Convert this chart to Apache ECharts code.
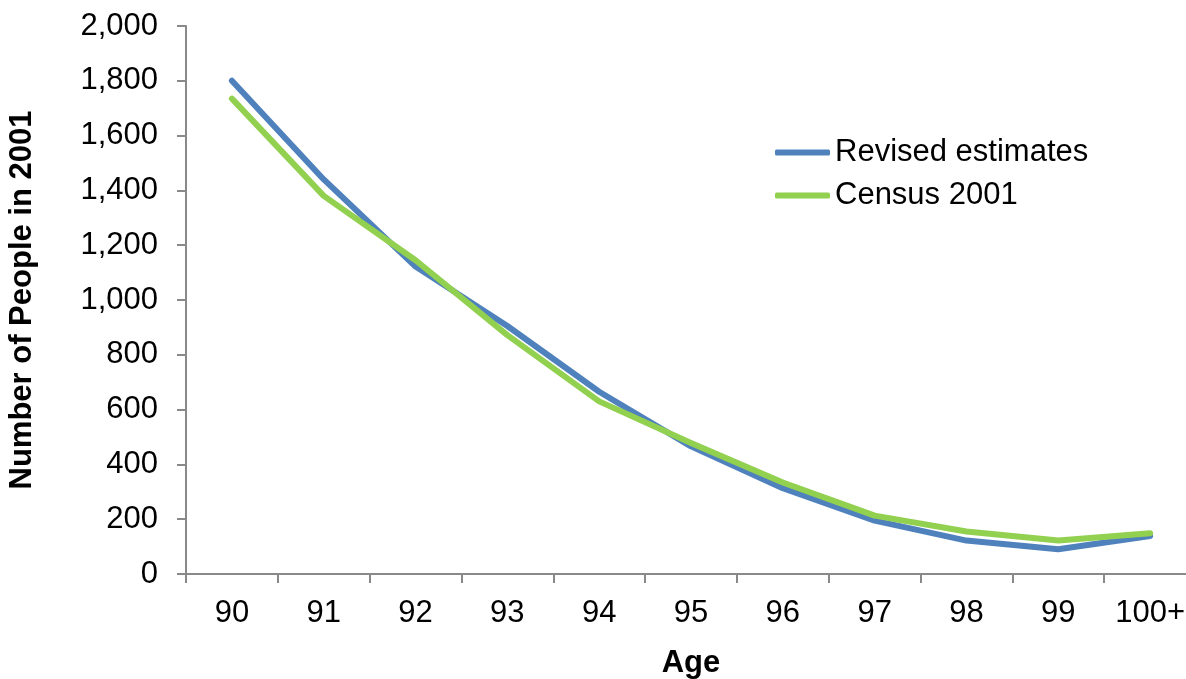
<!DOCTYPE html>
<html>
<head>
<meta charset="utf-8">
<script src="https://cdn.jsdelivr.net/npm/echarts@6/dist/echarts.min.js"></script>
<style>html,body{margin:0;padding:0;background:#fff;}#c{width:1186px;height:679px;}</style>
</head>
<body>
<div id="c"></div>
<script>
const categories = ['90','91','92','93','94','95','96','97','98','99','100+'];
const revisedEstimates = [1800,1440,1122,905,665,466,313,195,122,90,139];
const census2001 = [1735,1380,1145,872,630,478,334,213,155,122,149];
const yTicks = { min: 0, max: 2000, interval: 200 };

const font = '"Liberation Sans", Arial, sans-serif';
const fs = 31;
const axisColor = '#898989';
const chart = echarts.init(document.getElementById('c'), null, {renderer: 'canvas'});
chart.setOption({
  animation: false,
  backgroundColor: '#fff',
  grid: { left: 186, top: 26, bottom: 105, right: -10, containLabel: false, outerBoundsMode: 'none' },
  legend: {
    orient: 'vertical', left: 770, top: 132,
    itemWidth: 55, itemHeight: 6, itemGap: 12,
    icon: 'roundRect',
    textStyle: { fontFamily: font, fontSize: fs, color: '#000' },
    data: ['Revised estimates', 'Census 2001']
  },
  xAxis: {
    type: 'category', data: categories, boundaryGap: true,
    name: 'Age', nameLocation: 'middle', nameGap: 74,
    nameTextStyle: { fontFamily: font, fontSize: fs, fontWeight: 'bold', color: '#000' },
    axisLine: { lineStyle: { color: axisColor, width: 2 } },
    axisTick: { show: true, length: 9, alignWithLabel: false, lineStyle: { color: axisColor, width: 2 } },
    axisLabel: { fontFamily: font, fontSize: fs, color: '#000', margin: 24 },
    splitLine: { show: false }
  },
  yAxis: {
    type: 'value', min: yTicks.min, max: yTicks.max, interval: yTicks.interval,
    name: 'Number of People in 2001', nameLocation: 'middle', nameGap: 148,
    nameTextStyle: { fontFamily: font, fontSize: fs, fontWeight: 'bold', color: '#000' },
    axisLine: { show: true, lineStyle: { color: axisColor, width: 2 } },
    axisTick: { show: true, length: 9, lineStyle: { color: axisColor, width: 2 } },
    axisLabel: { fontFamily: font, fontSize: fs, color: '#000', margin: 28,
      formatter: v => v.toLocaleString('en-US') },
    splitLine: { show: false }
  },
  series: [
    { name: 'Revised estimates', type: 'line', data: revisedEstimates, symbol: 'none',
      lineStyle: { color: '#4F81BD', width: 6, cap: 'round', join: 'round' }, itemStyle: { color: '#4F81BD' } },
    { name: 'Census 2001', type: 'line', data: census2001, symbol: 'none',
      lineStyle: { color: '#92D050', width: 6, cap: 'round', join: 'round' }, itemStyle: { color: '#92D050' } }
  ]
});
</script>
</body>
</html>
